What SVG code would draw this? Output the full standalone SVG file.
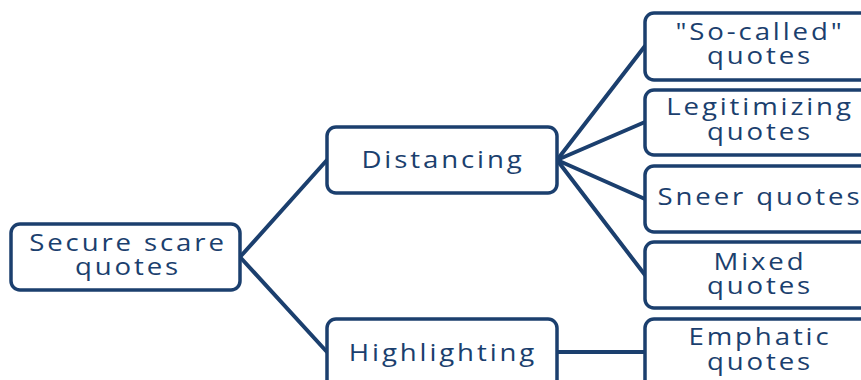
<svg xmlns="http://www.w3.org/2000/svg" width="861" height="380" viewBox="0 0 861 380">
<style>
.box{fill:#fff;stroke:#1b3f6e;stroke-width:3.5}
.t{font-family:"Open Sans","Liberation Sans",sans-serif;font-size:24px;fill:#1b3f6e;text-anchor:middle;letter-spacing:2.5px}
.c{stroke:#1b3f6e;stroke-width:4;fill:none;stroke-linecap:round}
</style>
<rect width="861" height="380" fill="#fff"/>
<g id="connectors">
<line class="c" x1="240" y1="257" x2="327" y2="160"/>
<line class="c" x1="240" y1="257" x2="327" y2="352"/>
<line class="c" x1="557" y1="160" x2="645" y2="46"/>
<line class="c" x1="557" y1="160" x2="645" y2="122"/>
<line class="c" x1="557" y1="160" x2="645" y2="199"/>
<line class="c" x1="557" y1="160" x2="645" y2="275"/>
<line class="c" x1="557" y1="352" x2="645" y2="352"/>
</g>
<g id="root">
<rect class="box" x="11" y="224" width="229" height="66" rx="9"/>
<text class="t" transform="translate(128 251) scale(1.15 1)">Secure scare</text>
<text class="t" transform="translate(128 275) scale(1.15 1)">quotes</text>
</g>
<g id="distancing">
<rect class="box" x="327" y="127" width="230" height="66" rx="9"/>
<text class="t" transform="translate(443 168) scale(1.15 1)">Distancing</text>
</g>
<g id="highlighting">
<rect class="box" x="327" y="319" width="230" height="80" rx="9"/>
<text class="t" transform="translate(443 361) scale(1.15 1)">Highlighting</text>
</g>
<g id="socalled">
<rect class="box" x="645" y="13" width="230" height="67" rx="9"/>
<text class="t" transform="translate(760 40) scale(1.15 1)">"So-called"</text>
<text class="t" transform="translate(760 64) scale(1.15 1)">quotes</text>
</g>
<g id="legitimizing">
<rect class="box" x="645" y="90" width="230" height="65" rx="9"/>
<text class="t" transform="translate(760 115) scale(1.15 1)">Legitimizing</text>
<text class="t" transform="translate(760 140) scale(1.15 1)">quotes</text>
</g>
<g id="sneer">
<rect class="box" x="645" y="166" width="230" height="66" rx="9"/>
<text class="t" transform="translate(760 205) scale(1.15 1)">Sneer quotes</text>
</g>
<g id="mixed">
<rect class="box" x="645" y="242" width="230" height="66" rx="9"/>
<text class="t" transform="translate(760 270) scale(1.15 1)">Mixed</text>
<text class="t" transform="translate(760 294) scale(1.15 1)">quotes</text>
</g>
<g id="emphatic">
<rect class="box" x="645" y="319" width="230" height="80" rx="9"/>
<text class="t" transform="translate(760 345) scale(1.15 1)">Emphatic</text>
<text class="t" transform="translate(760 370) scale(1.15 1)">quotes</text>
</g>
</svg>
